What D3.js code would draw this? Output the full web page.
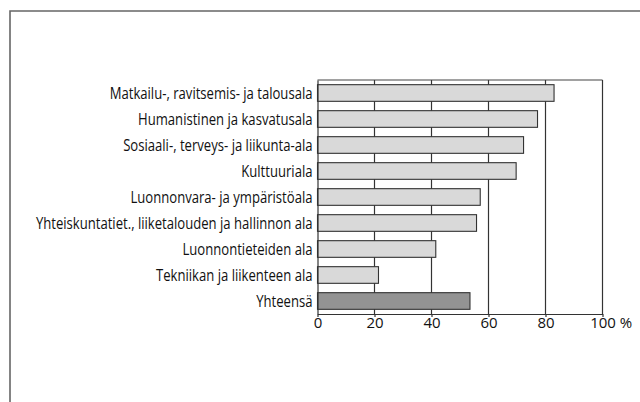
<!DOCTYPE html>
<html>
<head>
  <meta charset="utf-8">
  <script src="https://d3js.org/d3.v7.min.js"></script>
  <style>
    body { margin: 0; background: #fff; }
    text { font-family: "Open Sans", "Noto Sans", sans-serif; fill: #111; }
  </style>
</head>
<body>
<script>
var categories = [
  "Matkailu-, ravitsemis- ja talousala",
  "Humanistinen ja kasvatusala",
  "Sosiaali-, terveys- ja liikunta-ala",
  "Kulttuuriala",
  "Luonnonvara- ja ympäristöala",
  "Yhteiskuntatiet., liiketalouden ja hallinnon ala",
  "Luonnontieteiden ala",
  "Tekniikan ja liikenteen ala",
  "Yhteensä"
];
var values = [83, 77.2, 72.3, 69.7, 57.1, 55.8, 41.5, 21.4, 53.5];
var ticks = [0, 20, 40, 60, 80, 100];

var w = 640, h = 402;
var plotLeft = 317.5, plotRight = 602.5, plotTop = 80, plotBottom = 314;

var svg = d3.select("body").append("svg")
  .attr("width", w)
  .attr("height", h);

// outer frame
svg.append("path")
  .attr("d", "M10,410 L10,11 L650,11")
  .attr("fill", "none")
  .attr("stroke", "#666")
  .attr("stroke-width", 1.6);

var x = d3.scaleLinear().domain([0, 100]).range([plotLeft, plotRight]);
var y = d3.scaleBand().domain(categories).range([plotTop, plotBottom]).paddingInner(0.36).paddingOuter(0.18);

// grid lines
svg.selectAll("line.grid")
  .data(ticks.slice(1))
  .enter()
  .append("line")
  .attr("class", "grid")
  .attr("x1", function(d) { return x(d); })
  .attr("x2", function(d) { return x(d); })
  .attr("y1", plotTop)
  .attr("y2", plotBottom)
  .attr("stroke", "#333")
  .attr("stroke-width", 1.2);

// top border
svg.append("line")
  .attr("x1", plotLeft).attr("x2", plotRight)
  .attr("y1", plotTop).attr("y2", plotTop)
  .attr("stroke", "#444").attr("stroke-width", 1.2);

svg.selectAll("rect.bar")
  .data(values)
  .enter()
  .append("rect")
  .attr("class", "bar")
  .attr("x", x(0))
  .attr("y", function(d, i) { return y(categories[i]); })
  .attr("width", function(d) { return x(d) - x(0); })
  .attr("height", y.bandwidth())
  .attr("fill", function(d, i) { return i == categories.length - 1 ? "#939393" : "#d9d9d9"; })
  .attr("stroke", "#333")
  .attr("stroke-width", 1.1);

// y axis
var yAxis = svg.append("g")
  .attr("transform", "translate(" + plotLeft + ",0)")
  .call(d3.axisLeft(y).tickSize(0).tickPadding(5));
yAxis.select(".domain").attr("stroke", "#333").attr("stroke-width", 1.2);
yAxis.selectAll("text")
  .style("font-size", "16px")
  .attr("fill", "#111")
  .attr("dy", "0.36em");

// squeeze labels horizontally so the longest fits the left margin
var longest = 0;
yAxis.selectAll("text").each(function() { longest = Math.max(longest, this.getComputedTextLength()); });
var k = Math.min(1, 277 / longest);
yAxis.selectAll("text").attr("transform", "scale(" + k + ",1)").attr("x", -5 / k);

// x axis
var xAxis = svg.append("g")
  .attr("transform", "translate(0," + plotBottom + ")")
  .call(d3.axisBottom(x).tickValues(ticks).tickSize(3).tickPadding(0).tickSizeOuter(0));
xAxis.select(".domain").attr("stroke", "#333").attr("stroke-width", 1.2);
xAxis.selectAll("line").attr("stroke", "#333").attr("stroke-width", 1.2);
xAxis.selectAll("text").style("font-size", "15px").attr("fill", "#111").attr("y", 3);

var last = xAxis.selectAll(".tick").filter(function(d) { return d == 100; });
var lw = last.select("text").node().getComputedTextLength();
last.append("text")
  .attr("x", lw / 2 + 4)
  .attr("y", 3)
  .attr("dy", "0.71em")
  .attr("text-anchor", "start")
  .style("font-size", "15px")
  .attr("fill", "#111")
  .text("%");
</script>
</body>
</html>
